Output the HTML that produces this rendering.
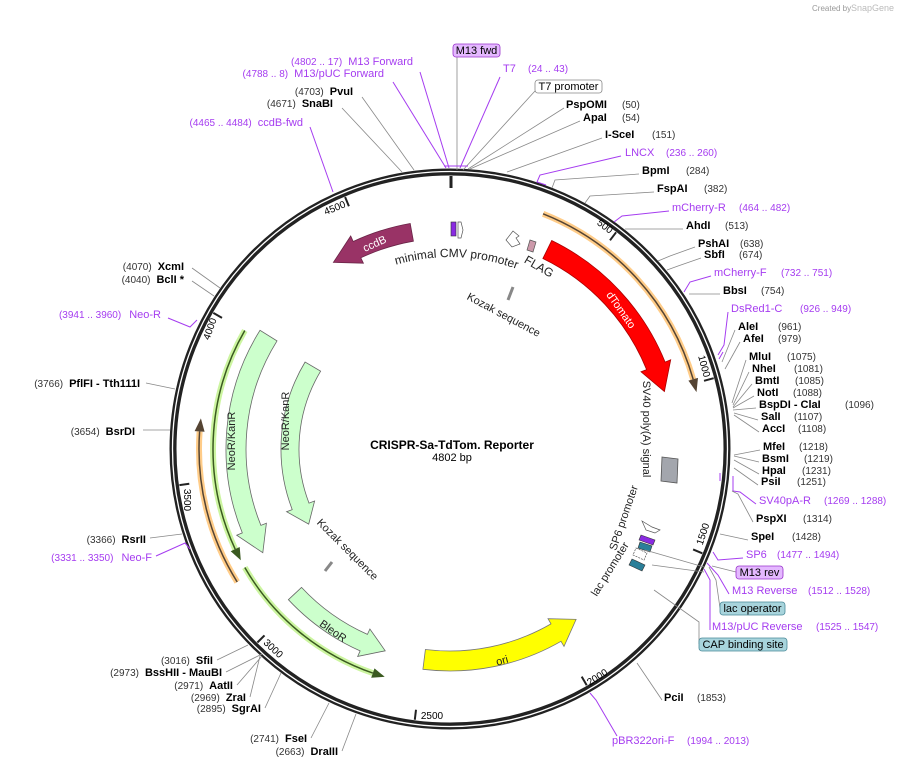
<!DOCTYPE html>
<html><head><meta charset="utf-8"><style>
html,body{margin:0;padding:0;background:#fff;}
svg{display:block;font-family:"Liberation Sans",sans-serif;}
.n{font-weight:bold;font-size:11px;fill:#000;}
.p{font-size:10px;fill:#333;}
.pp{font-size:11px;fill:#a53cf0;}
.pn{font-size:10px;fill:#a53cf0;}
.c{stroke:#888;stroke-width:0.8;fill:none;}
.cp{stroke:#a53cf0;stroke-width:1;fill:none;}
.t{font-size:10px;fill:#000;}
</style></head><body>
<svg width="910" height="768" viewBox="0 0 910 768" xmlns="http://www.w3.org/2000/svg">
<rect width="910" height="768" fill="#fff"/>
<text x="812" y="11" font-size="8" fill="#999">Created by</text><text x="851" y="11" font-size="9" fill="#bbb">SnapGene</text>

<!-- ring -->
<circle cx="450" cy="449" r="277" fill="none" stroke="#222" stroke-width="7"/>
<circle cx="450" cy="449" r="277.5" fill="none" stroke="#fff" stroke-width="1.3"/>

<!-- ticks -->
<g stroke="#222" stroke-width="2">
<line x1="451" y1="176" x2="451" y2="188" stroke-width="3"/>
<line x1="616.1" y1="232.3" x2="610" y2="240.3"/>
<line x1="713.7" y1="378.2" x2="704" y2="380.8"/>
<line x1="702.3" y1="553.3" x2="693.1" y2="549.4"/>
<line x1="586.7" y1="685.3" x2="581.7" y2="676.6"/>
<line x1="414.8" y1="719.7" x2="416" y2="709.8"/>
<line x1="257.4" y1="642.5" x2="264.5" y2="635.4"/>
<line x1="179.4" y1="485.1" x2="189.3" y2="483.8"/>
<line x1="213.3" y1="312.9" x2="222" y2="317.9"/>
<line x1="345.1" y1="197" x2="348.9" y2="206.2"/>
</g>
<g class="t" text-anchor="middle">
<text transform="translate(336,211) rotate(-22)">4500</text>
<text transform="translate(603,229) rotate(37)">500</text>
<text transform="translate(701,367) rotate(75)">1000</text>
<text transform="translate(706,535) rotate(-72)">1500</text>
<text transform="translate(599,680) rotate(-32)">2000</text>
<text transform="translate(432,719)">2500</text>
<text transform="translate(271,651) rotate(43)">3000</text>
<text transform="translate(184,500) rotate(90)">3500</text>
<text transform="translate(213,330) rotate(-70)">4000</text>
</g>

<!-- features -->
<path d="M410.2,223.5 A229,229 0 0 0 353.2,241.5 L350.7,236 L333.4,262.4 L363.4,263.2 L360.8,257.8 A211,211 0 0 1 413.4,241.2 Z" fill="#993366" stroke="#6a2447" stroke-width="0.8"/>
<text transform="translate(376,247) rotate(-24)" font-size="11" fill="#fff" text-anchor="middle">ccdB</text>

<path d="M551.7,240.5 A232,232 0 0 1 665.1,362.1 L670.7,359.8 L664.4,391.5 L641,371.8 L646.6,369.6 A212,212 0 0 0 542.9,258.5 Z" fill="#ff0000" stroke="#a00" stroke-width="0.8"/>
<text transform="translate(618,312) rotate(55)" font-size="11" fill="#fff" text-anchor="middle">dTomato</text>

<!-- orange right -->
<path d="M543.1,213.8 A253,253 0 0 1 693.2,379.3" fill="none" stroke="#ffcc88" stroke-width="6"/>
<path d="M543.1,213.8 A253,253 0 0 1 693.2,379.3" fill="none" stroke="#554433" stroke-width="1.5"/>
<path d="M688.4,380.6 L698,377.9 L696.5,392.1 Z" fill="#554433"/>

<!-- orange left -->
<path d="M237.2,582 A251,251 0 0 1 199.6,431.5" fill="none" stroke="#ffcc88" stroke-width="6"/>
<path d="M237.2,582 A251,251 0 0 1 199.6,431.5" fill="none" stroke="#554433" stroke-width="1.5"/>
<path d="M204.6,431.8 L194.6,431.1 L200.9,418.4 Z" fill="#554433"/>

<!-- green outer lines -->
<path d="M244.8,330.5 A237,237 0 0 0 235.2,549.2" fill="none" stroke="#ccf5a0" stroke-width="6"/>
<path d="M244.8,330.5 A237,237 0 0 0 235.2,549.2" fill="none" stroke="#3a5a20" stroke-width="1.5"/>
<path d="M239.7,547 L230.7,551.3 L240.8,560.3 Z" fill="#3a5a20"/>
<path d="M244.8,567.5 A237,237 0 0 0 372.8,673.1" fill="none" stroke="#ccf5a0" stroke-width="6"/>
<path d="M244.8,567.5 A237,237 0 0 0 372.8,673.1" fill="none" stroke="#3a5a20" stroke-width="1.5"/>
<path d="M374.5,668.4 L371.2,677.8 L384.7,676.8 Z" fill="#3a5a20"/>

<!-- NeoR outer -->
<path d="M260,330.3 A224,224 0 0 0 242.3,532.9 L236.7,535.2 L262.8,552.7 L266.4,523.2 L260.9,525.4 A204,204 0 0 1 277,340.9 Z" fill="#ccffcc" stroke="#666" stroke-width="0.8"/>
<text transform="translate(235,441) rotate(-90)" font-size="11" fill="#222" text-anchor="middle">NeoR/KanR</text>
<!-- NeoR inner -->
<path d="M305.1,362 A169,169 0 0 0 292.2,509.6 L286.6,511.7 L308.7,524.1 L314.6,501 L309,503.1 A151,151 0 0 1 320.6,371.2 Z" fill="#ccffcc" stroke="#666" stroke-width="0.8"/>
<text transform="translate(289,421) rotate(-90)" font-size="11" fill="#222" text-anchor="middle">NeoR/KanR</text>
<!-- BleoR -->
<path d="M288.4,599.7 A221,221 0 0 0 360.1,650.9 L357.7,656.4 L385.2,650.8 L369.9,629 L367.4,634.4 A203,203 0 0 1 301.5,587.4 Z" fill="#ccffcc" stroke="#666" stroke-width="0.8"/>
<text transform="translate(331,634) rotate(35)" font-size="11" fill="#222" text-anchor="middle">BleoR</text>
<!-- ori -->
<path d="M422.9,669.3 A222,222 0 0 0 561,641.3 L564,646.4 L576.1,619.4 L548,618.7 L551,623.9 A202,202 0 0 1 425.4,649.5 Z" fill="#ffff00" stroke="#777" stroke-width="0.8"/>
<text transform="translate(503,664) rotate(-15)" font-size="11" fill="#222" text-anchor="middle">ori</text>

<!-- SV40 polyA box -->
<polygon points="662,457 678,459 677,483 661,481" fill="#a3a6ad" stroke="#555" stroke-width="0.8"/>
<!-- small top features -->
<rect x="451" y="222" width="5" height="14" fill="#8a2be2" stroke="#333" stroke-width="0.6"/>
<path d="M458,222 L461,222 L463,230 L461,238 L458,238 Z" fill="#fff" stroke="#555" stroke-width="0.7"/>
<path d="M506,240 L513,231 L519,236 L516,238 L520,244 L512,247 Z" fill="#fff" stroke="#555" stroke-width="0.7"/>
<polygon points="530,240 536,242 533,252 527,250" fill="#cc99aa" stroke="#555" stroke-width="0.7"/>
<line x1="508" y1="300" x2="513" y2="287" stroke="#888" stroke-width="3"/>
<line x1="325" y1="571" x2="332" y2="562" stroke="#888" stroke-width="3"/>
<!-- SP6/lac features -->
<path d="M642,521 L652,527 L660,530 L655,533 L646,530 Z" fill="#fff" stroke="#555" stroke-width="0.7"/>
<polygon points="641,535 655,540 653,545 639,540" fill="#8a2be2" stroke="#333" stroke-width="0.6"/>
<polygon points="640,542 652,546 650,552 638,548" fill="#2a7f99" stroke="#333" stroke-width="0.6"/>
<path d="M636,548 L647,553 L644,560 L633,555 Z" fill="#fff" stroke="#555" stroke-width="0.7" stroke-dasharray="2,1"/>
<polygon points="632,559 645,565 642,571 629,565" fill="#2a7f99" stroke="#333" stroke-width="0.6"/>

<!-- inner labels -->
<path id="cmv" d="M359.9,279.5 A192,192 0 0 1 551.7,286.2" fill="none"/>
<text font-size="12" fill="#222"><textPath href="#cmv" startOffset="50%" text-anchor="middle">minimal CMV promoter</textPath></text>
<text transform="translate(537,270) rotate(30)" font-size="12" fill="#222" text-anchor="middle">FLAG</text>
<text transform="translate(502,318) rotate(28)" font-size="11" fill="#222" text-anchor="middle">Kozak sequence</text>
<text transform="translate(643,429) rotate(90)" font-size="11" fill="#222" text-anchor="middle">SV40 poly(A) signal</text>
<text transform="translate(627,519) rotate(-71)" font-size="11" fill="#222" text-anchor="middle">SP6 promoter</text>
<text transform="translate(613,571) rotate(-58)" font-size="11" fill="#222" text-anchor="middle">lac promoter</text>
<text transform="translate(345,552) rotate(45)" font-size="11" fill="#222" text-anchor="middle">Kozak sequence</text>

<text x="452" y="449" font-size="12" font-weight="bold" text-anchor="middle">CRISPR-Sa-TdTom. Reporter</text>
<text x="452" y="461" font-size="11" text-anchor="middle">4802 bp</text>

<!-- connectors top -->
<line class="c" x1="457" y1="56" x2="457" y2="170"/>
<line class="cp" x1="420" y1="72" x2="449" y2="168"/>
<line class="cp" x1="393" y1="82" x2="446" y2="168"/>
<line class="cp" x1="500" y1="77" x2="460" y2="168"/>
<line class="c" x1="535" y1="91" x2="463" y2="170"/>
<path class="cp" d="M444,166 L468,166" stroke-width="2"/>
<line class="c" x1="362" y1="97" x2="414" y2="170"/>
<line class="c" x1="342" y1="108" x2="402" y2="172"/>
<line class="cp" x1="310" y1="127" x2="333" y2="192"/>
<line class="c" x1="564" y1="108" x2="468" y2="169"/>
<line class="c" x1="580" y1="121" x2="470" y2="169"/>
<line class="c" x1="602" y1="138" x2="507" y2="172"/>
<path class="cp" d="M621,156 L540,175 L537,182 L546,185"/>
<path class="c" d="M639,174 L555,180 L552,188"/>
<path class="c" d="M654,192 L590,196 L585,203"/>
<path class="cp" d="M669,211 L622,216 L614,222"/>
<path class="c" d="M683,229 L632,229 L625,229"/>
<path class="c" d="M695,247 L670,256 L658,261"/>
<path class="c" d="M701,258 L678,266 L667,270"/>
<path class="cp" d="M711,276 L690,282 L684,292"/>
<path class="c" d="M720,294 L689,294"/>
<path class="cp" d="M728,312 L724,345 L718,355"/>
<path class="c" d="M735,330 L722,362"/>
<path class="c" d="M740,342 L725,369"/>
<path class="c" d="M746,360 L732,403"/>
<path class="c" d="M749,372 L733,405"/>
<path class="c" d="M752,384 L733,407"/>
<path class="c" d="M754,396 L733,408"/>
<path class="c" d="M756,408 L733,410"/>
<path class="c" d="M758,420 L734,413"/>
<path class="c" d="M759,432 L734,415"/>
<path class="c" d="M760,450 L734,455"/>
<path class="c" d="M759,462 L734,456"/>
<path class="c" d="M759,474 L734,460"/>
<path class="c" d="M758,485 L734,468"/>
<path class="cp" d="M756,504 L740,492 L733,491 L733,476"/>
<path class="c" d="M753,522 L738,494 L732,491"/>
<path class="c" d="M748,540 L720,534"/>
<path class="cp" d="M743,558 L718,560 L713,552"/>
<path class="c" d="M736,572 L712,566"/>
<path class="cp" d="M729,594 L718,575 L707,563"/>
<path class="c" d="M720,608 L716,580 L709,567"/>
<path class="cp" d="M710,630 L710,580 L704,569"/>
<path class="c" d="M699,644 L699,622 L654,590"/>
<path class="c" d="M645,550 L704,567"/>
<path class="c" d="M652,565 L704,572"/>
<path class="c" d="M662,700 L637,663"/>
<path class="cp" d="M617,736 L596,700 L590,693"/>
<!-- left connectors -->
<path class="c" d="M192,268 L220,288"/>
<path class="c" d="M192,281 L214,296"/>
<path class="cp" d="M168,318 L190,327 L197,320"/>
<path class="c" d="M146,383 L175,389"/>
<path class="c" d="M143,430 L170,430"/>
<path class="c" d="M150,538 L182,534"/>
<path class="cp" d="M156,556 L185,543 L190,549"/>
<path class="c" d="M217,660 L248,645"/>
<path class="c" d="M226,672 L262,654"/>
<path class="c" d="M237,685 L262,656"/>
<path class="c" d="M250,697 L260,656"/>
<path class="c" d="M265,708 L281,673"/>
<path class="c" d="M311,738 L329,703"/>
<path class="c" d="M342,751 L356,714"/>
<path class="cp" d="M719,359 L723,352" stroke-width="2"/>
<path class="cp" d="M720,473 L720,481" stroke-width="2"/>

<!-- top labels -->
<rect x="453" y="44" width="47" height="13" rx="3" fill="#e4b8ff" stroke="#9933cc" stroke-width="0.8"/>
<text x="476.5" y="54" font-size="11" text-anchor="middle">M13 fwd</text>
<text x="413" y="65" text-anchor="end"><tspan class="pn">(4802 .. 17)</tspan><tspan class="pp" dx="6">M13 Forward</tspan></text>
<text x="384" y="77" text-anchor="end"><tspan class="pn">(4788 .. 8)</tspan><tspan class="pp" dx="6">M13/pUC Forward</tspan></text>
<text x="503" y="72" class="pp">T7</text><text x="528" y="72" class="pn">(24 .. 43)</text>
<rect x="535" y="80" width="67" height="13" rx="3" fill="#fff" stroke="#888" stroke-width="0.8"/>
<text x="568.5" y="90" font-size="11" text-anchor="middle">T7 promoter</text>
<text x="353" y="95" text-anchor="end"><tspan class="p">(4703)</tspan><tspan class="n" dx="6">PvuI</tspan></text>
<text x="333" y="107" text-anchor="end"><tspan class="p">(4671)</tspan><tspan class="n" dx="6">SnaBI</tspan></text>
<text x="303" y="126" text-anchor="end"><tspan class="pn">(4465 .. 4484)</tspan><tspan class="pp" dx="6">ccdB-fwd</tspan></text>

<!-- right labels -->
<g>
<text x="566" y="108" class="n">PspOMI</text><text x="622" y="108" class="p">(50)</text>
<text x="583" y="121" class="n">ApaI</text><text x="622" y="121" class="p">(54)</text>
<text x="605" y="138" class="n">I-SceI</text><text x="652" y="138" class="p">(151)</text>
<text x="625" y="156" class="pp">LNCX</text><text x="666" y="156" class="pn">(236 .. 260)</text>
<text x="642" y="174" class="n">BpmI</text><text x="686" y="174" class="p">(284)</text>
<text x="657" y="192" class="n">FspAI</text><text x="704" y="192" class="p">(382)</text>
<text x="672" y="211" class="pp">mCherry-R</text><text x="739" y="211" class="pn">(464 .. 482)</text>
<text x="686" y="229" class="n">AhdI</text><text x="725" y="229" class="p">(513)</text>
<text x="698" y="247" class="n">PshAI</text><text x="740" y="247" class="p">(638)</text>
<text x="704" y="258" class="n">SbfI</text><text x="739" y="258" class="p">(674)</text>
<text x="714" y="276" class="pp">mCherry-F</text><text x="781" y="276" class="pn">(732 .. 751)</text>
<text x="723" y="294" class="n">BbsI</text><text x="761" y="294" class="p">(754)</text>
<text x="731" y="312" class="pp">DsRed1-C</text><text x="800" y="312" class="pn">(926 .. 949)</text>
<text x="738" y="330" class="n">AleI</text><text x="778" y="330" class="p">(961)</text>
<text x="743" y="342" class="n">AfeI</text><text x="778" y="342" class="p">(979)</text>
<text x="749" y="360" class="n">MluI</text><text x="787" y="360" class="p">(1075)</text>
<text x="752" y="372" class="n">NheI</text><text x="794" y="372" class="p">(1081)</text>
<text x="755" y="384" class="n">BmtI</text><text x="795" y="384" class="p">(1085)</text>
<text x="757" y="396" class="n">NotI</text><text x="793" y="396" class="p">(1088)</text>
<text x="759" y="408" class="n">BspDI   - ClaI</text><text x="845" y="408" class="p">(1096)</text>
<text x="761" y="420" class="n">SalI</text><text x="794" y="420" class="p">(1107)</text>
<text x="762" y="432" class="n">AccI</text><text x="798" y="432" class="p">(1108)</text>
<text x="763" y="450" class="n">MfeI</text><text x="799" y="450" class="p">(1218)</text>
<text x="762" y="462" class="n">BsmI</text><text x="804" y="462" class="p">(1219)</text>
<text x="762" y="474" class="n">HpaI</text><text x="802" y="474" class="p">(1231)</text>
<text x="761" y="485" class="n">PsiI</text><text x="797" y="485" class="p">(1251)</text>
<text x="759" y="504" class="pp">SV40pA-R</text><text x="824" y="504" class="pn">(1269 .. 1288)</text>
<text x="756" y="522" class="n">PspXI</text><text x="803" y="522" class="p">(1314)</text>
<text x="751" y="540" class="n">SpeI</text><text x="792" y="540" class="p">(1428)</text>
<text x="746" y="558" class="pp">SP6</text><text x="777" y="558" class="pn">(1477 .. 1494)</text>
<rect x="736" y="566" width="47" height="13" rx="3" fill="#e4b8ff" stroke="#9933cc" stroke-width="0.8"/>
<text x="759.5" y="576" font-size="11" text-anchor="middle">M13 rev</text>
<text x="732" y="594" class="pp">M13 Reverse</text><text x="808" y="594" class="pn">(1512 .. 1528)</text>
<rect x="720" y="602" width="65" height="13" rx="3" fill="#a8d4dc" stroke="#4a8a99" stroke-width="0.8"/>
<text x="752.5" y="612" font-size="11" text-anchor="middle">lac operator</text>
<text x="712" y="630" class="pp">M13/pUC Reverse</text><text x="816" y="630" class="pn">(1525 .. 1547)</text>
<rect x="699" y="638" width="88" height="13" rx="3" fill="#a8d4dc" stroke="#4a8a99" stroke-width="0.8"/>
<text x="743" y="648" font-size="11" text-anchor="middle">CAP binding site</text>
<text x="664" y="701" class="n">PciI</text><text x="697" y="701" class="p">(1853)</text>
<text x="612" y="744" class="pp">pBR322ori-F</text><text x="687" y="744" class="pn">(1994 .. 2013)</text>
</g>

<!-- left labels -->
<g text-anchor="end">
<text x="184" y="270"><tspan class="p">(4070)</tspan><tspan class="n" dx="6">XcmI</tspan></text>
<text x="184" y="283"><tspan class="p">(4040)</tspan><tspan class="n" dx="6">BclI *</tspan></text>
<text x="161" y="318"><tspan class="pn">(3941 .. 3960)</tspan><tspan class="pp" dx="8">Neo-R</tspan></text>
<text x="140" y="387"><tspan class="p">(3766)</tspan><tspan class="n" dx="6">PflFI   - Tth111I</tspan></text>
<text x="135" y="435"><tspan class="p">(3654)</tspan><tspan class="n" dx="6">BsrDI</tspan></text>
<text x="146" y="543"><tspan class="p">(3366)</tspan><tspan class="n" dx="6">RsrII</tspan></text>
<text x="152" y="561"><tspan class="pn">(3331 .. 3350)</tspan><tspan class="pp" dx="8">Neo-F</tspan></text>
<text x="213" y="664"><tspan class="p">(3016)</tspan><tspan class="n" dx="6">SfiI</tspan></text>
<text x="222" y="676"><tspan class="p">(2973)</tspan><tspan class="n" dx="6">BssHII   - MauBI</tspan></text>
<text x="233" y="689"><tspan class="p">(2971)</tspan><tspan class="n" dx="6">AatII</tspan></text>
<text x="246" y="701"><tspan class="p">(2969)</tspan><tspan class="n" dx="6">ZraI</tspan></text>
<text x="261" y="712"><tspan class="p">(2895)</tspan><tspan class="n" dx="6">SgrAI</tspan></text>
<text x="307" y="742"><tspan class="p">(2741)</tspan><tspan class="n" dx="6">FseI</tspan></text>
<text x="338" y="755"><tspan class="p">(2663)</tspan><tspan class="n" dx="6">DraIII</tspan></text>
</g>
</svg>
</body></html>
